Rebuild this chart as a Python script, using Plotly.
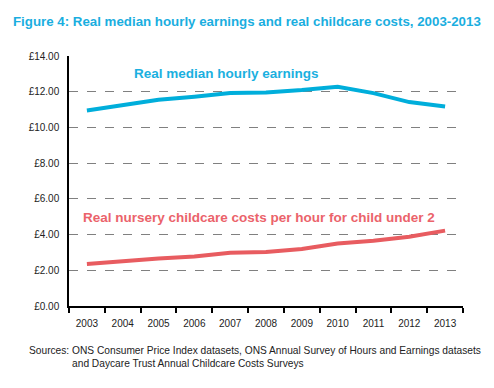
import plotly.graph_objects as go

years = ["2003", "2004", "2005", "2006", "2007", "2008", "2009", "2010", "2011", "2012", "2013"]
earnings = [10.95, 11.25, 11.55, 11.72, 11.93, 11.96, 12.09, 12.28, 11.92, 11.42, 11.17]
childcare = [2.35, 2.52, 2.66, 2.77, 2.98, 3.02, 3.19, 3.50, 3.66, 3.88, 4.22]
y_ticks = [0, 2, 4, 6, 8, 10, 12, 14]
y_labels = ["£%.2f" % v for v in y_ticks]

CYAN = "#00AEDB"
RED = "#E85C60"
FONT = "Liberation Sans, Arial, sans-serif"

fig = go.Figure()
fig.add_trace(go.Scatter(x=years, y=earnings, mode="lines",
                         line=dict(color=CYAN, width=4), showlegend=False))
fig.add_trace(go.Scatter(x=years, y=childcare, mode="lines",
                         line=dict(color=RED, width=4), showlegend=False))

fig.update_layout(
    width=494, height=388,
    margin=dict(l=69, r=31, t=56, b=82),
    paper_bgcolor="white", plot_bgcolor="white",
    font=dict(family=FONT, size=10, color="#222"),
    title=dict(text="<b>Figure 4: Real median hourly earnings and real childcare costs, 2003-2013</b>",
               x=13 / 494, xanchor="left", y=1 - 21 / 388, yanchor="middle",
               font=dict(family=FONT, size=13.3, color="#1AAEDF")),
    xaxis=dict(type="category", tickson="boundaries", ticks="outside", ticklen=5,
               tickcolor="black", tickwidth=1.5, showline=True, linecolor="black", linewidth=1.5,
               showgrid=False, tickfont=dict(size=10, color="#222"), range=[-0.5, 10.5],
               ticklabelstandoff=7, automargin=False),
    yaxis=dict(range=[0, 14], tickvals=y_ticks, ticktext=y_labels,
               showline=True, linecolor="black", linewidth=1.5, ticks="",
               showgrid=True, gridcolor="#808080", gridwidth=1.3, griddash="dash",
               zeroline=False, tickfont=dict(size=10, color="#222"), ticklabelstandoff=6,
               automargin=False),
)

fig.add_annotation(text="<b>Real median hourly earnings</b>", xref="paper", yref="paper",
                   x=(132 - 69) / 394, y=(306 - 74) / 250, xanchor="left", yanchor="middle",
                   showarrow=False, font=dict(family=FONT, size=13.5, color="#1AB0E0"))
fig.add_annotation(text="<b>Real nursery childcare costs per hour for child under 2</b>", xref="paper", yref="paper",
                   x=(81 - 69) / 394, y=(306 - 217) / 250, xanchor="left", yanchor="middle",
                   showarrow=False, font=dict(family=FONT, size=13.5, color="#EB636B"))
fig.add_annotation(text="Sources: ONS Consumer Price Index datasets, ONS Annual Survey of Hours and Earnings datasets<br>"
                        "<span style='color:white'>Sources: </span>and Daycare Trust Annual Childcare Costs Surveys",
                   xref="paper", yref="paper", x=(27 - 69) / 394, y=(306 - 357) / 250,
                   xanchor="left", yanchor="middle", align="left", showarrow=False,
                   font=dict(family=FONT, size=10.2, color="#222"))

fig.write_html("out.html", config={"displayModeBar": False},
               post_script="document.body.style.margin='0';")
